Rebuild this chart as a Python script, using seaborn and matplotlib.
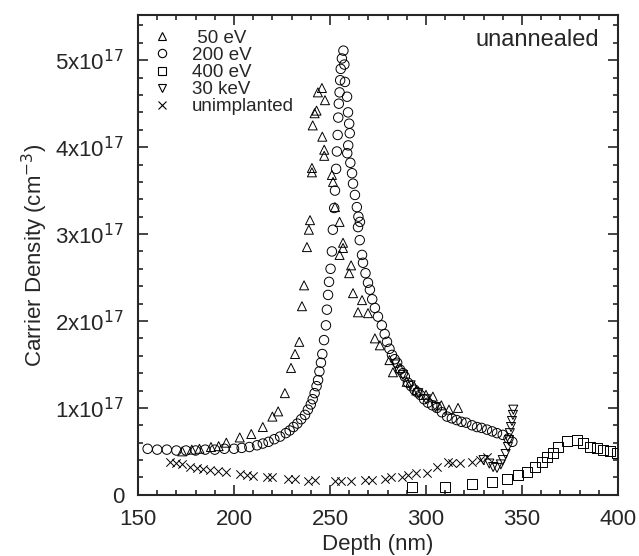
import numpy as np
import pandas as pd
import matplotlib
matplotlib.use("Agg")
import matplotlib.pyplot as plt
from matplotlib.lines import Line2D
from matplotlib.ticker import MultipleLocator
import seaborn as sns

# depth in nm, carrier density in units of 1e17 cm^-3
depth_50ev = [173, 178, 182, 188, 192, 196, 203, 209, 215, 220, 223, 226.5, 229.7, 231.8,
              234, 235.4, 236.5, 238, 239, 239.6, 240.6, 240.6, 241, 242, 243, 243.7, 245.8,
              247.4, 246, 247, 247, 251, 251.6, 252.6, 255, 256.8, 256.8, 255, 261, 260, 262,
              266.7, 264.6, 269.8, 273.4, 276, 281, 282.8, 286.5, 290, 295, 300, 303.6, 308,
              312, 316.7]
dens_50ev = [0.50, 0.52, 0.53, 0.55, 0.56, 0.60, 0.66, 0.70, 0.78, 0.90, 0.96, 1.17, 1.46, 1.62,
             1.76, 2.17, 2.41, 2.85, 3.05, 3.16, 3.71, 3.76, 4.25, 4.39, 4.42, 4.63, 4.68,
             4.54, 4.12, 3.97, 3.90, 3.68, 3.60, 3.31, 3.14, 2.90, 2.84, 2.76, 2.64, 2.55, 2.32,
             2.24, 2.10, 2.09, 1.80, 1.72, 1.55, 1.41, 1.46, 1.30, 1.20, 1.15, 1.13, 1.03,
             0.98, 1.00]

depth_200ev = [155, 160, 165, 170, 175, 180, 185, 190, 195, 200, 204, 208, 212, 215, 218, 221,
               224, 227, 229, 231, 233, 235, 237, 238.5, 240, 241, 242, 243, 243.8, 244.5,
               245.3, 246, 246.9, 247.9, 248.4, 249, 249.5, 250.3, 251, 251.5, 252.2, 252.6,
               253.2, 253.6, 254, 254.3, 254.6, 255, 255.3, 255.6, 256.2, 257,
               257.5, 257.8, 258.9, 259.4, 260, 260.3, 259.5, 259, 260.6, 261.5, 262, 263, 264,
               264.8, 265.6, 264.6, 265.5, 266.7, 267.2, 268.5, 269.8, 270.8, 272, 273.4, 275,
               277, 278.5, 279.7, 281, 282.3, 283.7, 285, 286.5, 288, 289, 290.6, 292.3, 294,
               295.5, 297, 299, 301, 303.3, 305.7, 308.3, 311, 313.5, 316, 318.5, 321, 324,
               326.6, 329, 331.8, 334.5, 337, 340, 343, 345]
dens_200ev = [0.53, 0.52, 0.52, 0.51, 0.51, 0.51, 0.52, 0.52, 0.53, 0.53, 0.54, 0.55, 0.57, 0.59,
              0.61, 0.64, 0.67, 0.71, 0.74, 0.78, 0.82, 0.87, 0.92, 0.98, 1.04, 1.10, 1.17, 1.25,
              1.32, 1.42, 1.52, 1.62, 1.78, 1.95, 2.13, 2.30, 2.45, 2.60, 2.80, 3.05, 3.30, 3.50,
              3.75, 3.95, 4.14, 4.34, 4.50, 4.63, 4.77, 4.90, 5.02, 5.11,
              4.95, 4.75, 4.58, 4.40, 4.27, 4.16, 4.02, 3.93, 3.82, 3.70, 3.58, 3.45, 3.31,
              3.20, 3.14, 3.08, 2.93, 2.76, 2.67, 2.55, 2.44, 2.36, 2.25, 2.15, 2.05,
              1.95, 1.85, 1.76, 1.68, 1.61, 1.56, 1.52, 1.44, 1.40, 1.36, 1.29, 1.25, 1.21,
              1.18, 1.15, 1.10, 1.06, 1.03, 1.00, 0.95, 0.90, 0.88, 0.86, 0.84, 0.83, 0.80,
              0.78, 0.77, 0.75, 0.73, 0.71, 0.69, 0.65, 0.61]

depth_400ev = [292.7, 310, 324, 334.4, 342, 348, 352.6, 356.8, 360.4, 363, 366, 368.8, 373.4,
               378.6, 381.8, 385.4, 389, 392, 395.8, 399.5]
dens_400ev = [0.09, 0.09, 0.13, 0.15, 0.18, 0.23, 0.26, 0.32, 0.38, 0.43, 0.48, 0.55, 0.62,
              0.63, 0.60, 0.55, 0.54, 0.52, 0.50, 0.48]

depth_30kev = [284, 288, 292, 296, 300, 305, 330, 333, 335, 337, 339, 340, 341.5, 342.7, 343.3,
               343.7, 344.3, 344.8, 345.3, 345.5]
dens_30kev = [1.50, 1.38, 1.26, 1.17, 1.10, 1.01, 0.40, 0.36, 0.32, 0.31, 0.35, 0.40, 0.47,
              0.55, 0.63, 0.71, 0.78, 0.85, 0.92, 0.98]

depth_unimpl = [166.7, 170, 173, 177, 180.7, 184, 187.5, 191.7, 196, 203, 207, 210, 217, 220,
                228, 231.8, 238.5, 242, 252.6, 256, 261, 268, 271.9, 278.6, 282, 287.5, 290.6,
                295, 300.5, 305.7, 311.5, 313.5, 317.7, 324, 328, 331.8]
dens_unimpl = [0.38, 0.37, 0.35, 0.32, 0.31, 0.30, 0.29, 0.27, 0.26, 0.24, 0.23, 0.22, 0.20, 0.20,
               0.18, 0.18, 0.16, 0.17, 0.16, 0.16, 0.16, 0.17, 0.17, 0.18, 0.20, 0.21, 0.23,
               0.25, 0.25, 0.32, 0.38, 0.37, 0.37, 0.38, 0.40, 0.43]

labels = [" 50 eV", "200 eV", "400 eV", "30 keV", "unimplanted"]
markers = ["^", "o", "s", "v", "x"]
ytick_vals = [0, 1, 2, 3, 4, 5]
ytick_labels = ["0", "1x10$^{17}$", "2x10$^{17}$", "3x10$^{17}$", "4x10$^{17}$", "5x10$^{17}$"]

series = [(depth_50ev, dens_50ev), (depth_200ev, dens_200ev), (depth_400ev, dens_400ev),
          (depth_30kev, dens_30kev), (depth_unimpl, dens_unimpl)]
sizes = [42, 46, 52, 42, 36]

sns.set_style("ticks")
plt.rcParams['font.family'] = ['Liberation Sans', 'DejaVu Sans']

fig = plt.figure(figsize=(6.39, 5.56), dpi=100)
ax = fig.add_axes([0.216, 0.110, 0.751, 0.863])

for (d, v), lab, m, sz in zip(series, labels, markers, sizes):
    df = pd.DataFrame({"depth": d, "dens": v})
    if m == "x":
        sns.scatterplot(data=df, x="depth", y="dens", marker=m, s=sz, color="black",
                        linewidth=0.7, ax=ax, zorder=3)
    else:
        sns.scatterplot(data=df, x="depth", y="dens", marker=m, s=sz, facecolor="none",
                        edgecolor="black", linewidth=0.7, ax=ax, zorder=3)

ax.set_xlim(150, 400)
ax.set_ylim(0, 5.52)
ax.xaxis.set_major_locator(MultipleLocator(50))
ax.xaxis.set_minor_locator(MultipleLocator(10))
ax.set_yticks(ytick_vals)
ax.set_yticklabels(ytick_labels)
ax.yaxis.set_minor_locator(MultipleLocator(0.2))
ax.tick_params(which="both", direction="in", top=True, right=True, labelsize=16, width=1.2)
ax.tick_params(which="major", length=7, pad=10)
ax.tick_params(which="minor", length=3.5)
for sp in ax.spines.values():
    sp.set_linewidth(1.5)

ax.set_xlabel("Depth (nm)", fontsize=16, labelpad=3)
ax.set_ylabel("Carrier Density (cm$^{-3}$)", fontsize=16, labelpad=4)

handles = []
for lab, m in zip(labels, markers):
    if m == "x":
        h = Line2D([], [], linestyle="none", marker=m, color="black", markersize=6, mew=0.8)
    else:
        h = Line2D([], [], linestyle="none", marker=m, markerfacecolor="none",
                   markeredgecolor="black", markersize=6, mew=0.8)
    handles.append(h)
ax.legend(handles, labels, loc="upper left", frameon=False, fontsize=13.5,
          handletextpad=1.0, labelspacing=0.0, borderaxespad=0.0, handlelength=1.2,
          bbox_to_anchor=(0.01, 0.985))

ax.text(0.96, 0.97, "unannealed", transform=ax.transAxes, ha="right", va="top", fontsize=17)

fig.savefig("out.png", dpi=100)
